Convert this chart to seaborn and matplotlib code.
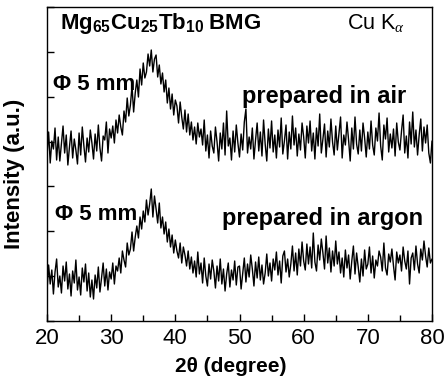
import numpy as np
import pandas as pd
import matplotlib
matplotlib.use("Agg")
import matplotlib.pyplot as plt
from matplotlib.ticker import MultipleLocator
import seaborn as sns

# 2-theta scan grid (0.25 degree steps)
two_theta = np.linspace(20, 80, 241)

# Intensity (a.u.), sample cast in air (stacked above the argon pattern)
air = [
    165, 189, 158, 180, 172, 193, 161, 184, 160, 177, 195, 168, 186, 156, 174, 190,
    163, 182, 171, 157, 188, 166, 194, 175, 159, 183, 169, 191, 178, 162, 187, 170,
    196, 173, 160, 185, 181, 199, 168, 192, 183, 195, 178, 201, 188, 206, 194, 186,
    210, 199, 223, 205, 216, 235, 209, 228, 241, 224, 252, 236, 258, 243, 249, 267,
    255, 271, 249, 262, 266, 244, 256, 237, 248, 229, 241, 218, 233, 212, 227, 206,
    221, 215, 198, 219, 204, 192, 211, 189, 207, 186, 199, 181, 194, 177, 198, 184,
    192, 176, 201, 170, 186, 163, 190, 175, 168, 194, 179, 160, 188, 172, 198, 166,
    210, 175, 183, 161, 190, 169, 196, 178, 164, 187, 171, 199, 212, 168, 184, 172,
    193, 162, 181, 198, 170, 189, 165, 201, 177, 160, 192, 173, 200, 169, 186, 163,
    191, 174, 203, 167, 180, 196, 162, 189, 172, 205, 176, 193, 165, 187, 171, 198,
    184, 163, 195, 178, 200, 170, 188, 162, 193, 175, 207, 168, 182, 197, 164, 190,
    174, 202, 179, 166, 195, 171, 188, 204, 163, 186, 176, 199, 181, 160, 193, 172,
    204, 177, 167, 191, 170, 198, 183, 164, 189, 172, 200, 176, 166, 193, 180, 208,
    175, 161, 196, 182, 203, 169, 187, 173, 192, 165, 198, 179, 171, 190, 206, 168,
    185, 163, 199, 177, 209, 174, 191, 166, 186, 202, 170, 194, 178, 196, 168, 158,
    180,
]

# Intensity (a.u.), sample cast in argon
argon = [
    30, 56, 37, 51, 27, 49, 62, 34, 45, 28, 55, 40, 59, 32, 47, 25,
    50, 38, 61, 31, 44, 26, 53, 39, 57, 30, 48, 24, 41, 22, 46, 33,
    54, 29, 43, 58, 35, 52, 31, 49, 42, 58, 37, 55, 50, 63, 48, 70,
    61, 54, 78, 66, 72, 89, 70, 84, 95, 83, 104, 92, 110, 99, 121, 106,
    117, 132, 104, 125, 112, 98, 118, 93, 104, 87, 99, 79, 92, 74, 86, 68,
    81, 70, 63, 78, 58, 74, 66, 55, 70, 52, 64, 48, 60, 44, 69, 47,
    58, 38, 63, 45, 35, 57, 42, 61, 50, 33, 55, 40, 62, 37, 52, 30,
    47, 58, 34, 51, 41, 60, 36, 54, 55, 32, 48, 63, 39, 57, 44, 66,
    52, 35, 59, 43, 64, 41, 56, 37, 48, 67, 45, 58, 40, 62, 51, 69,
    46, 60, 38, 65, 70, 49, 62, 44, 57, 75, 50, 68, 46, 72, 55, 79,
    60, 51, 77, 57, 74, 53, 88, 59, 50, 76, 61, 82, 68, 52, 85, 58,
    73, 49, 70, 55, 80, 57, 69, 48, 63, 44, 71, 53, 66, 42, 60, 75,
    47, 68, 54, 39, 62, 45, 71, 52, 57, 74, 48, 65, 43, 61, 55, 70,
    64, 50, 78, 53, 46, 67, 59, 72, 55, 41, 69, 58, 66, 50, 74, 60,
    52, 70, 37, 63, 68, 51, 75, 57, 48, 72, 61, 80, 65, 54, 73, 58,
    62,
]

x_ticks = [20, 30, 40, 50, 60, 70, 80]

df = pd.DataFrame({
    "two_theta": np.concatenate([two_theta, two_theta]),
    "intensity": np.concatenate([air, argon]),
    "atmosphere": ["air"] * len(air) + ["argon"] * len(argon),
})

sns.set_theme(style="ticks")
plt.rcParams["font.family"] = ["Liberation Sans", "DejaVu Sans"]
plt.rcParams["text.color"] = "black"
plt.rcParams["axes.labelcolor"] = "black"
plt.rcParams["xtick.color"] = "black"
plt.rcParams["ytick.color"] = "black"
plt.rcParams["axes.edgecolor"] = "black"
plt.rcParams["mathtext.fontset"] = "custom"
plt.rcParams["mathtext.rm"] = "Liberation Sans"
plt.rcParams["mathtext.bf"] = "Liberation Sans:bold"
plt.rcParams["mathtext.it"] = "Liberation Serif:italic"

fig = plt.figure(figsize=(4.45, 3.80), dpi=100)
ax = fig.add_axes([47 / 445, 1 - 321 / 380, 385 / 445, 314 / 380])

sns.lineplot(data=df, x="two_theta", y="intensity", units="atmosphere",
             estimator=None, color="black", linewidth=1.0, ax=ax, legend=False)

ax.set_xlim(20, 80)
ax.set_ylim(0, 314)
ax.set_xticks(x_ticks)
ax.set_xticklabels([str(t) for t in x_ticks])
ax.xaxis.set_minor_locator(MultipleLocator(5))
ax.set_yticks(np.linspace(0, 314, 8))
ax.set_yticklabels([])

for side in ["top", "right", "bottom", "left"]:
    ax.spines[side].set_visible(True)
    ax.spines[side].set_linewidth(1.0)
    ax.spines[side].set_color("black")

ax.tick_params(axis="both", which="major", direction="in", length=5, width=1,
               labelsize=16, pad=5, colors="black")
ax.tick_params(axis="x", which="minor", direction="in", length=4, width=1)
ax.tick_params(top=False, right=False)

ax.set_xlabel("2θ (degree)", fontsize=15, fontweight="bold")
ax.xaxis.set_label_coords(0.478, -0.115)
ax.set_ylabel("Intensity (a.u.)", fontsize=16, fontweight="bold")
ax.yaxis.set_label_coords(-0.056, 0.47)

ax.text(22.0, 298, r"$\mathbf{Mg_{65}Cu_{25}Tb_{10}\ BMG}$", fontsize=16,
        ha="left", va="center")
ax.text(66.7, 298, r"Cu K$_{\alpha}$", fontsize=15.5, ha="left", va="center")
ax.text(21.0, 236, "Φ 5 mm", fontsize=16, fontweight="bold", ha="left", va="center")
ax.text(50.4, 224, "prepared in air", fontsize=17, fontweight="bold",
        ha="left", va="center")
ax.text(21.3, 106, "Φ 5 mm", fontsize=16, fontweight="bold", ha="left", va="center")
ax.text(47.3, 103, "prepared in argon", fontsize=17, fontweight="bold",
        ha="left", va="center")

fig.savefig("out.png", dpi=100)
